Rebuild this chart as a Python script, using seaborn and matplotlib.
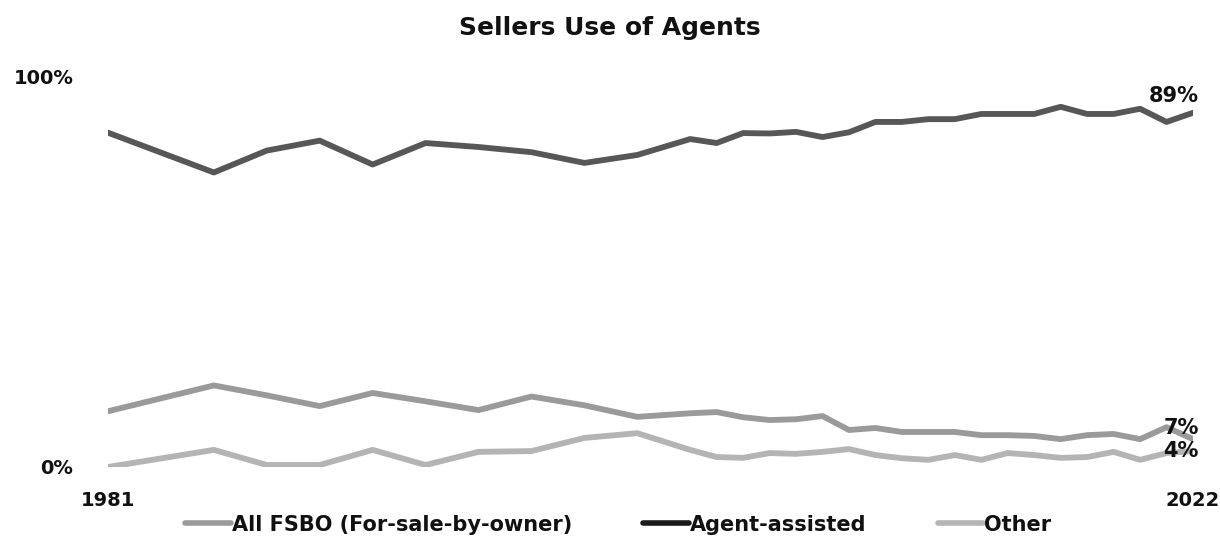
import matplotlib
matplotlib.use("Agg")
import matplotlib.pyplot as plt
import seaborn as sns
import pandas as pd

years = [1981, 1985, 1987, 1989, 1991, 1993, 1995, 1997, 1999, 2001,
         2003, 2004, 2005, 2006, 2007, 2008, 2009, 2010, 2011, 2012,
         2013, 2014, 2015, 2016, 2017, 2018, 2019, 2020, 2021, 2022]

fsbo = [14.0, 20.5, 18.0, 15.3, 18.6, 16.5, 14.3, 17.7, 15.5, 12.6,
        13.5, 13.8, 12.5, 11.8, 12.0, 12.8, 9.3, 9.8, 8.8, 8.8,
        8.8, 8.0, 8.0, 7.8, 7.0, 8.0, 8.3, 7.0, 10.0, 7.0]

agent_assisted = [84.0, 74.0, 79.5, 82.0, 76.0, 81.4, 80.4, 79.1, 76.4, 78.4,
                  82.4, 81.4, 83.9, 83.8, 84.2, 82.9, 84.1, 86.7, 86.7, 87.4,
                  87.4, 88.7, 88.7, 88.7, 90.5, 88.7, 88.7, 90.0, 86.7, 89.0]

other = [0.0, 4.3, 0.5, 0.5, 4.3, 0.5, 3.8, 4.0, 7.3, 8.5,
         4.3, 2.5, 2.3, 3.5, 3.3, 3.8, 4.5, 3.0, 2.2, 1.8,
         3.0, 1.8, 3.5, 3.0, 2.3, 2.5, 3.8, 1.8, 3.5, 4.0]

series_names = ["All FSBO (For-sale-by-owner)", "Agent-assisted", "Other"]
series_colors = ["#9a9a9a", "#575757", "#b4b4b4"]
legend_colors = ["#9a9a9a", "#1a1a1a", "#b4b4b4"]

df = pd.concat([
    pd.DataFrame({"Year": years, "Share": fsbo, "Method": series_names[0]}),
    pd.DataFrame({"Year": years, "Share": agent_assisted, "Method": series_names[1]}),
    pd.DataFrame({"Year": years, "Share": other, "Method": series_names[2]}),
])

sns.set_theme(style="white")
plt.rcParams["font.family"] = ["DejaVu Sans"]
plt.rcParams["font.weight"] = "bold"

text_color = "#111111"

fig = plt.figure(figsize=(12.2, 5.42), dpi=100)
ax = fig.add_axes([108 / 1220, 75 / 542, (1193 - 108) / 1220, (467 - 69) / 542])

sns.lineplot(data=df, x="Year", y="Share", hue="Method",
             palette=dict(zip(series_names, series_colors)),
             linewidth=4.2, ax=ax, legend=True)
for line in ax.get_lines():
    line.set_solid_capstyle("round")
    line.set_solid_joinstyle("round")

ax.set_xlim(years[0], years[-1])
ax.set_ylim(0, 100)
for s in ax.spines.values():
    s.set_visible(False)
ax.set_xlabel("")
ax.set_ylabel("")

ax.set_xticks([years[0], years[-1]])
ax.set_xticklabels([str(years[0]), str(years[-1])])
ax.set_yticks([0, 100])
ax.set_yticklabels(["0%", "100%"])
ax.tick_params(axis="both", length=0, labelsize=14, labelcolor=text_color)
ax.tick_params(axis="y", pad=25)
ax.tick_params(axis="x", pad=17)
for lbl in ax.get_xticklabels() + ax.get_yticklabels():
    lbl.set_fontweight("bold")
# the top label sits a little below the 100% line
ax.get_yticklabels()[1].set_verticalalignment("top")
ax.get_yticklabels()[1].set_y(101)

# value labels at the last year
end_labels = [
    (agent_assisted[-1], 12.0),
    (fsbo[-1], 8.0),
    (other[-1], 0.0),
]
for val, dy in end_labels:
    ax.annotate(f"{val:.0f}%", xy=(years[-1], val), xytext=(4, dy),
                textcoords="offset points", ha="right", va="center",
                fontsize=15, fontweight="bold", color=text_color,
                annotation_clip=False)

# legend along the bottom
handles, labels = ax.get_legend_handles_labels()
ax.get_legend().remove()
leg = fig.legend(handles, labels, loc="center", bbox_to_anchor=(0.507, 0.032),
                 ncol=3, frameon=False, fontsize=15, handlelength=2.2,
                 handletextpad=0.05, columnspacing=3.4)
for h, c in zip(leg.get_lines(), legend_colors):
    h.set_color(c)
    h.set_linewidth(4.0)
for t in leg.get_texts():
    t.set_fontweight("bold")
    t.set_color(text_color)

fig.suptitle("Sellers Use of Agents", y=0.948, va="center",
             fontsize=18, fontweight="bold", color=text_color)

fig.savefig("out.png", dpi=100, facecolor="white")
